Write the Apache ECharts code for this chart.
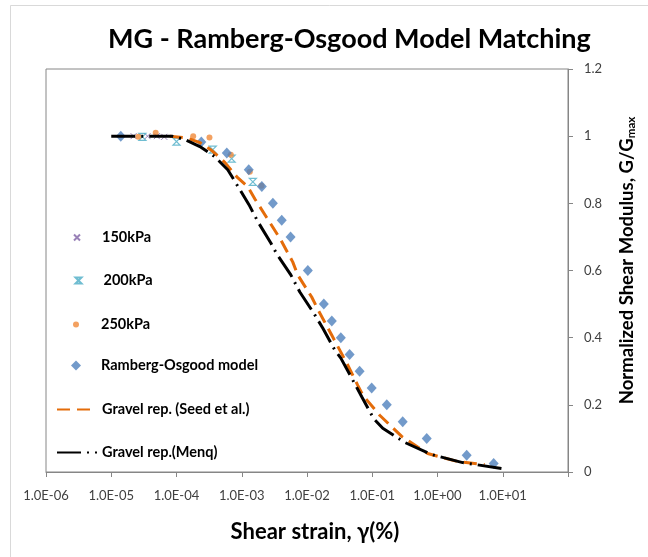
<!DOCTYPE html>
<html>
<head>
<meta charset="utf-8">
<script src="https://cdn.jsdelivr.net/npm/echarts@6/dist/echarts.min.js"></script>
<style>
  html, body { margin: 0; padding: 0; background: #fff; }
  #main { width: 648px; height: 557px; }
</style>
</head>
<body>
<div id="main"></div>
<script>
// measured points, shear strain (%) vs G/Gmax
const p150Strain = [2.2e-5, 3.6e-5, 5.0e-5, 6.5e-5];
const p150G = [1.0, 1.0, 1.0, 0.998];

const p200Strain = [3.0e-5, 1.0e-4, 3.6e-4, 7.0e-4, 1.48e-3];
const p200G = [0.998, 0.984, 0.96, 0.933, 0.864];

const p250Strain = [2.6e-5, 4.8e-5, 1.8e-4, 3.2e-4, 6.8e-4, 1.33e-3, 2.0e-3];
const p250G = [0.998, 1.01, 1.0, 0.996, 0.945, 0.894, 0.852];

const roStrain = [1.4e-5, 2.4e-4, 5.9e-4, 1.28e-3, 2.03e-3, 3.0e-3, 4.1e-3, 5.6e-3, 1.03e-2, 1.81e-2,
  2.4e-2, 3.3e-2, 4.5e-2, 6.4e-2, 9.8e-2, 0.167, 0.293, 0.684, 2.8, 7.26];
const roG = [1.0, 0.983, 0.95, 0.9, 0.85, 0.8, 0.75, 0.7, 0.6, 0.5,
  0.45, 0.4, 0.35, 0.3, 0.25, 0.2, 0.15, 0.1, 0.05, 0.025];

const seedStrain = [7.9e-5, 1.44e-4, 2.28e-4, 3.48e-4, 5.5e-4, 8.4e-4, 1.24e-3, 1.59e-3, 2.42e-3, 3.97e-3,
  6.06e-3, 7.2e-3, 1.18e-2, 1.46e-2, 2.4e-2, 4.07e-2, 6.0e-2, 7.2e-2, 0.13, 0.283, 0.708, 2.04, 5.28];
const seedG = [1.0, 0.995, 0.981, 0.957, 0.922, 0.879, 0.849, 0.813, 0.757, 0.691,
  0.625, 0.587, 0.521, 0.485, 0.407, 0.324, 0.258, 0.228, 0.169, 0.106, 0.055, 0.031, 0.022];

const menqStrain = [1.0e-5, 8.5e-5, 1.35e-4, 2.28e-4, 3.87e-4, 6.1e-4, 8.1e-4, 1.29e-3, 1.77e-3, 2.79e-3,
  3.45e-3, 5.65e-3, 7.76e-3, 1.27e-2, 1.75e-2, 2.67e-2, 3.3e-2, 4.86e-2, 6.9e-2, 0.105,
  0.145, 0.315, 0.815, 2.43, 9.96];
const menqG = [1.0, 1.0, 0.99, 0.969, 0.939, 0.9, 0.861, 0.796, 0.745, 0.682,
  0.649, 0.587, 0.536, 0.473, 0.428, 0.363, 0.339, 0.279, 0.224, 0.159,
  0.13, 0.088, 0.052, 0.028, 0.01];

const seriesNames = ['150kPa', '200kPa', '250kPa', 'Ramberg-Osgood model',
  'Gravel rep. (Seed et al.)', 'Gravel rep.(Menq)'];

const zip = (xs, ys) => xs.map((x, i) => [x, ys[i]]);

// legend rows: center y, icon width / height
const legendRowY = [233, 276, 320, 363, 409, 452];
const legendIconW = [6, 6, 6, 10, 40, 40];
const legendIconH = [6, 6, 6, 10, 14, 14];
const legendTextX = 101;

const font = 'Lato, "Liberation Sans", sans-serif';

var myChart = echarts.init(document.getElementById('main'));
let option = {
  backgroundColor: '#fff',
  animation: false,
  textStyle: { fontFamily: font },
  graphic: [
    {
      type: 'rect',
      shape: { x: 10.5, y: 5.5, width: 700, height: 600 },
      style: { fill: 'none', stroke: '#d9d9d9', lineWidth: 1 },
      silent: true,
    },
  ],
  title: {
    text: 'MG - Ramberg-Osgood Model Matching',
    left: 103,
    top: 21,
    textStyle: { fontFamily: font, fontSize: 27, fontWeight: 'bold', color: '#000' },
  },
  legend: seriesNames.map((n, i) => {
    // icons centred at x=76 (line icons span 56..96), text starts at x=101
    const left = i < 4 ? 76 - legendIconW[i] / 2 : 56;
    const pad = legendTextX - (left + legendIconW[i] + 5);
    return {
      data: [n],
      orient: 'vertical',
      padding: 0,
      left: left,
      top: legendRowY[i] - legendIconH[i] / 2,
      itemWidth: legendIconW[i],
      itemHeight: legendIconH[i],
      selectedMode: false,
      textStyle: {
        fontFamily: font, fontSize: 14.5, fontWeight: 'bold', color: '#000',
        padding: [0, 0, 0, pad],
      },
    };
  }),
  grid: {
    left: 46,
    right: 80,
    top: 69,
    bottom: 85,
    show: true,
    borderColor: '#868686',
    borderWidth: 1,
  },
  xAxis: {
    type: 'log',
    logBase: 10,
    min: 1e-6,
    max: 100,
    interval: 1,
    name: 'Shear strain, γ(%)',
    nameLocation: 'middle',
    nameGap: 49,
    nameTextStyle: {
      fontFamily: font, fontSize: 22, fontWeight: 'bold', color: '#000',
      padding: [0, 0, 0, 16],
    },
    axisLine: { lineStyle: { color: '#868686', width: 1 } },
    axisTick: { show: true, length: 5, lineStyle: { color: '#868686' } },
    splitLine: { show: false },
    minorTick: { show: false },
    axisLabel: {
      margin: 17,
      fontSize: 13,
      color: '#404040',
      showMaxLabel: true,
      formatter: (v) => {
        const e = Math.round(Math.log10(v));
        if (e >= 2) return '';
        return '1.0E' + (e < 0 ? '-' : '+') + String(Math.abs(e)).padStart(2, '0');
      },
    },
  },
  yAxis: {
    type: 'value',
    position: 'right',
    min: 0,
    max: 1.2,
    interval: 0.2,
    name: 'Normalized Shear Modulus, G/G{sub|max}',
    nameLocation: 'middle',
    nameRotate: 90,
    nameGap: 49,
    nameTextStyle: {
      fontFamily: font, fontSize: 18.5, fontWeight: 'bold', color: '#000',
      padding: [0, 0, 0, 20],
      rich: {
        sub: { fontFamily: font, fontSize: 11.5, fontWeight: 'bold', color: '#000', verticalAlign: 'bottom', padding: [8, 0, 0, 0] },
      },
    },
    axisLine: { show: true, lineStyle: { color: '#868686', width: 1 } },
    axisTick: { show: true, length: 5, lineStyle: { color: '#868686' } },
    splitLine: { show: false },
    axisLabel: { margin: 16, fontSize: 13, color: '#404040' },
  },
  series: [
    {
      name: seriesNames[0],
      type: 'scatter',
      symbol: 'path://M0,0L10,10M10,0L0,10',
      symbolSize: 6,
      itemStyle: { color: '#7F62A5', borderColor: '#7F62A5', borderWidth: 1 },
      data: zip(p150Strain, p150G),
    },
    {
      name: seriesNames[1],
      type: 'scatter',
      symbol: 'path://M0,0L10,0L0,10L10,10Z',
      symbolSize: [7, 7],
      itemStyle: { color: 'none', borderColor: '#4BACC6', borderWidth: 1.2 },
      data: zip(p200Strain, p200G),
    },
    {
      name: seriesNames[2],
      type: 'scatter',
      symbol: 'circle',
      symbolSize: 6,
      itemStyle: { color: '#F08A3A' },
      data: zip(p250Strain, p250G),
    },
    {
      name: seriesNames[3],
      type: 'scatter',
      symbol: 'diamond',
      symbolSize: [10, 11],
      itemStyle: { color: '#4F81BD' },
      data: zip(roStrain, roG),
    },
    {
      name: seriesNames[4],
      type: 'line',
      showSymbol: false,
      symbol: 'none',
      lineStyle: { color: '#E46C0A', width: 3, type: [13, 7] },
      // transparent item colour keeps the legend icon a plain dashed line
      itemStyle: { color: 'transparent', borderWidth: 0 },
      data: zip(seedStrain, seedG),
    },
    {
      name: seriesNames[5],
      type: 'line',
      showSymbol: false,
      symbol: 'none',
      lineStyle: { color: '#000', width: 3, type: [24, 6, 2, 6] },
      itemStyle: { color: 'transparent', borderWidth: 0 },
      data: zip(menqStrain, menqG),
    },
  ],
};
myChart.setOption(option);
</script>
</body>
</html>
